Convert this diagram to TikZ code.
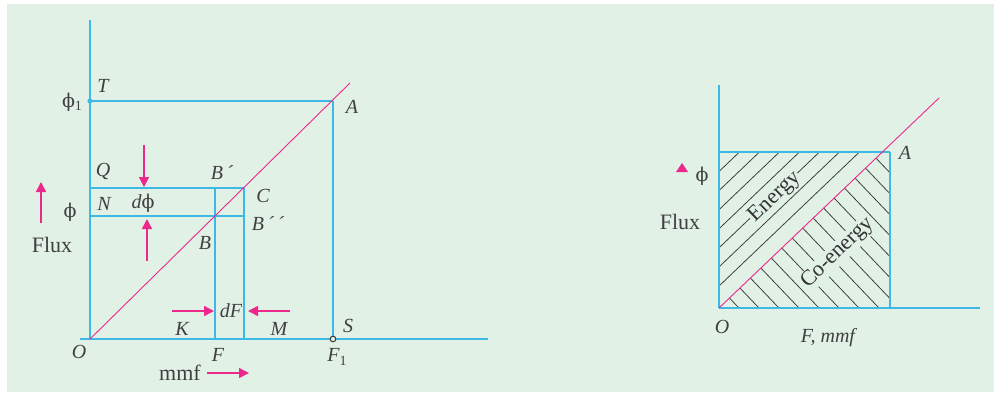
\documentclass[tikz,border=0pt]{standalone}
\usepackage{fontspec}
\setmainfont{Liberation Serif}
\newfontfamily\phifont{DejaVu Serif}
\usetikzlibrary{arrows.meta}
\definecolor{bgc}{RGB}{225,241,230}
\definecolor{cyanL}{RGB}{62,184,228}
\definecolor{pinkC}{RGB}{236,40,140}
\definecolor{hatchc}{RGB}{55,55,55}
\tikzset{
  axis/.style={cyanL, line width=1.7pt},
  thinl/.style={cyanL, line width=1.1pt},
  pinkline/.style={pinkC, line width=0.9pt},
  parr/.style={pinkC, line width=1.5pt, -{Triangle[length=10pt,width=10pt]}},
  lbl/.style={font=\fontsize{20}{20}\selectfont\itshape, text=black!75, inner sep=0pt},
  txt/.style={font=\fontsize{22}{22}\selectfont, text=black!75, inner sep=0pt},
  hatch/.style={draw=hatchc, line width=0.75pt},
  rottxt/.style={font=\fontsize{22}{22}\selectfont, text=black!80, fill=bgc, inner sep=1pt, rotate=44},
}
\newcommand{\sbone}{\raisebox{-0.35ex}{\fontsize{14}{14}\selectfont\upshape 1}}
\newcommand{\myphi}{{\phifont\upshape\fontsize{19}{19}\selectfont ϕ}}
\begin{document}
\begin{tikzpicture}[x=1pt,y=-1pt]
\useasboundingbox (0,0) rectangle (994,392);
\fill[bgc] (7,4) rectangle (994,392);
% ---------- left diagram ----------
\coordinate (O) at (90,339);
\coordinate (Ytop) at (90,20);
\coordinate (Xl) at (80,339);
\coordinate (Xr) at (488,339);
\coordinate (T) at (90,101);
\coordinate (A) at (333,101);
\coordinate (S) at (333,339);
\coordinate (Lend) at (350,83);
\coordinate (Q) at (90,188);
\coordinate (C) at (244,188);
\coordinate (N) at (90,216);
\coordinate (Bpp) at (244,216);
\coordinate (Bp) at (215,188);
\coordinate (F) at (215,339);
\coordinate (M) at (244,339);

\draw[axis] (Ytop) -- (O);
\draw[axis] (Xl) -- (Xr);
\draw[axis] (T) -- (A);
\draw[thinl] (A) -- (S);
\draw[axis] (Q) -- (C);
\draw[thinl] (N) -- (Bpp);
\draw[thinl] (Bp) -- (F);
\draw[thinl] (C) -- (M);
\draw[pinkline] (O) -- (Lend);
\fill[cyanL] (T) circle (2.6pt);
\draw[hatchc, line width=1pt, fill=bgc] (S) circle (2.8pt);

\node[lbl] (lT) at (103,86) {T};
\node[txt] (lphi1) at (72,102) {\myphi\sbone};
\node[lbl] (lA) at (352,107) {A};
\node[lbl] (lQ) at (103,171) {Q};
\node[lbl] (lBp) at (222,173) {B\,´};
\node[lbl] (lC) at (263,196) {C};
\node[lbl] (lN) at (104,204) {N};
\node[lbl] (ldphi) at (143,203) {d\myphi};
\node[lbl] (lBpp) at (268,224) {B\,´\,´};
\node[txt] (lphi) at (70,212) {\myphi};
\node[lbl] (lB) at (205,243) {B};
\node[txt] (lflux) at (52,245) {Flux};
\node[lbl] (ldF) at (231,311) {dF};
\node[lbl] (lK) at (182,329) {K};
\node[lbl] (lM) at (279,329) {M};
\node[lbl] (lF) at (218,355) {F};
\node[lbl] (lO) at (79,352) {O};
\node[lbl] (lF1) at (337,357) {F\sbone};
\node[lbl] (lS) at (348,326) {S};
\node[txt] (lmmf) at (180,373) {mmf};

\coordinate (fa1) at (41,223); \coordinate (fa2) at (41,182);
\draw[parr] (fa1) -- (fa2);
\coordinate (da1) at (144,145); \coordinate (da2) at (144,187);
\draw[parr] (da1) -- (da2);
\coordinate (ua1) at (147,261); \coordinate (ua2) at (147,219);
\draw[parr] (ua1) -- (ua2);
\coordinate (ra1) at (172,311); \coordinate (ra2) at (214,311);
\draw[parr] (ra1) -- (ra2);
\coordinate (la1) at (290,311); \coordinate (la2) at (248,311);
\draw[parr] (la1) -- (la2);
\coordinate (ma1) at (207,373); \coordinate (ma2) at (249,373);
\draw[parr] (ma1) -- (ma2);

% ---------- right diagram ----------
\coordinate (O2) at (719,308);
\coordinate (Y2) at (719,85);
\coordinate (X2) at (980,308);
\coordinate (P2) at (719,152);
\coordinate (A2) at (890,152);
\coordinate (R2) at (890,308);
\coordinate (K2) at (882,152);
\coordinate (L2) at (939,98);

\begin{scope}
  \clip (O2) -- (P2) -- (K2) -- cycle;
  \foreach \a in {556,576,...,696} \draw[hatch] (\a,308) -- ++(330,-315);
\end{scope}
\begin{scope}
  \clip (O2) -- (K2) -- (A2) -- (R2) -- cycle;
  \foreach \b in {739,759,...,1039} \draw[hatch] (\b,308) -- ++(-250,-262);
\end{scope}

\draw[axis] (Y2) -- (O2);
\draw[axis] (O2) -- (X2);
\draw[axis] (P2) -- (A2);
\draw[thinl] (A2) -- (R2);
\draw[pinkline] (O2) -- (L2);

\node[rottxt] (len) at (775,197) {Energy};
\node[rottxt] (lcoen) at (838,253) {Co-energy};

\fill[pinkC] (676,172) -- (688,172) -- (682,163) -- cycle;
\node[txt] (rphi) at (702,176) {\myphi};
\node[txt] (rflux) at (680,222) {Flux};
\node[lbl] (rO) at (722,327) {O};
\node[lbl] (rmmf) at (828,338) {F, mmf};
\node[lbl] (rA) at (905,153) {A};
\end{tikzpicture}
\end{document}
